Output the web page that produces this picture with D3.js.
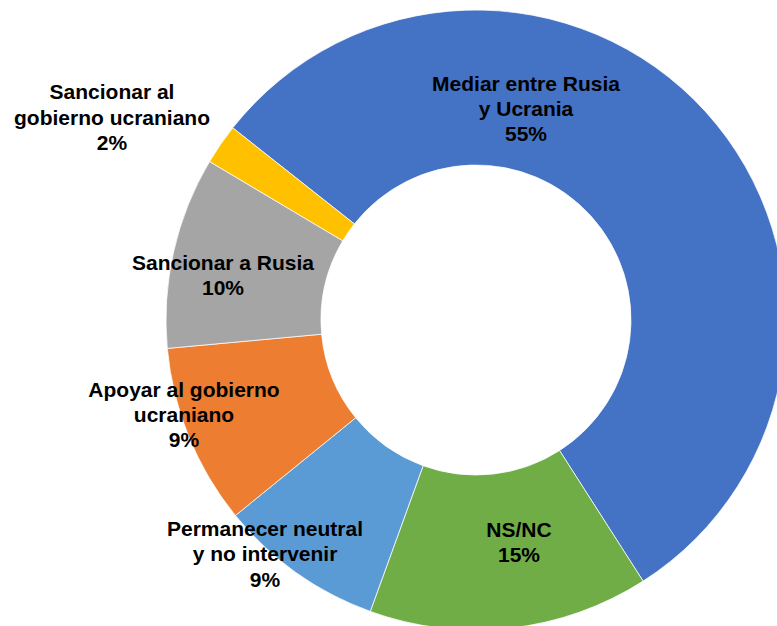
<!DOCTYPE html>
<html>
<head>
<meta charset="utf-8">
<script src="https://cdn.jsdelivr.net/npm/d3@7"></script>
<style>
  html, body { margin: 0; padding: 0; background: #fff; }
  #chart { width: 777px; height: 626px; overflow: hidden; }
  .label { font-family: "Liberation Sans", Arial, Helvetica, sans-serif; font-weight: bold; font-size: 21px; fill: #000; }
</style>
</head>
<body>
<div id="chart"></div>
<script>
// Data
const categories = [
    'Mediar entre Rusia y Ucrania',
    'NS/NC',
    'Permanecer neutral y no intervenir',
    'Apoyar al gobierno ucraniano',
    'Sancionar a Rusia',
    'Sancionar al gobierno ucraniano'
];
const values = [55.3, 14.6, 8.6, 9.4, 10.0, 2.1];
const labelLines = [
    ['Mediar entre Rusia', 'y Ucrania'],
    ['NS/NC'],
    ['Permanecer neutral', 'y no intervenir'],
    ['Apoyar al gobierno', 'ucraniano'],
    ['Sancionar a Rusia'],
    ['Sancionar al', 'gobierno ucraniano']
];
const colors = ['#4472C4', '#70AD47', '#5B9BD5', '#ED7D31', '#A5A5A5', '#FFC000'];

// Data label placement (offset of first baseline from the donut centre)
const labelOffset = [
    [50, -229.5],
    [43, 217],
    [-211, 216],
    [-292, 76.7],
    [-253, -50],
    [-364, -220.7]
];

const width = 777;
const height = 626;
const cx = 476, cy = 320;
const outerR = 310, innerR = 155;
const lineH = 25.3;

const svg = d3.select('#chart')
    .append('svg')
    .attr('width', width)
    .attr('height', height);

const g = svg.append('g')
    .attr('transform', `translate(${cx},${cy})`);

const pie = d3.pie()
    .sort(null)
    .value(d => d)
    .startAngle(-51.7 * Math.PI / 180)
    .endAngle(-51.7 * Math.PI / 180 + 2 * Math.PI);

const arc = d3.arc()
    .innerRadius(innerR)
    .outerRadius(outerR);

const arcs = pie(values);

g.selectAll('path.slice')
    .data(arcs)
    .enter()
    .append('path')
    .attr('class', 'slice')
    .attr('d', arc)
    .style('fill', (d, i) => colors[i])
    .style('stroke', '#fff')
    .style('stroke-width', 0.75);

// Labels
const labels = g.selectAll('text.label')
    .data(arcs)
    .enter()
    .append('text')
    .attr('class', 'label')
    .attr('text-anchor', 'middle')
    .attr('x', (d, i) => labelOffset[i][0])
    .attr('y', (d, i) => labelOffset[i][1]);

labels.each(function(d, i) {
    const t = d3.select(this);
    const lines = labelLines[i].concat([Math.round(values[i]) + '%']);
    lines.forEach((line, j) => {
        t.append('tspan')
            .attr('x', labelOffset[i][0])
            .attr('y', labelOffset[i][1] + j * lineH)
            .text(line);
    });
});
</script>
</body>
</html>
